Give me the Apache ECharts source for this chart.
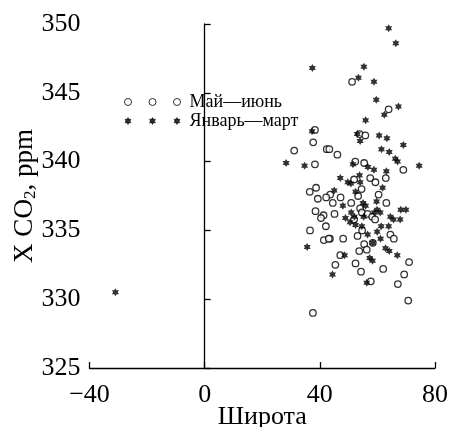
<!DOCTYPE html>
<html>
<head>
<meta charset="utf-8">
<script src="https://cdn.jsdelivr.net/npm/echarts@6/dist/echarts.min.js"></script>
<style>
  html, body { margin: 0; padding: 0; background: #fff; }
  #chart { width: 449px; height: 427px; }
</style>
</head>
<body>
<div id="chart"></div>
<script>
// данные: [широта, XCO2]
const mayJune = [
    [51.2, 345.8], [63.9, 343.8], [38.3, 342.3], [37.7, 341.4], [53.8, 342.0], [55.8, 341.9],
    [42.4, 340.9], [43.3, 340.9], [31.1, 340.8], [46.1, 340.5], [38.3, 339.8], [52.3, 340.0],
    [55.4, 339.9], [69.0, 339.4], [51.9, 338.7], [57.5, 338.8], [59.3, 338.5], [62.9, 338.8],
    [38.7, 338.1], [36.5, 337.8], [43.6, 337.6], [42.2, 337.4], [39.3, 337.3], [47.2, 337.4],
    [54.5, 338.0], [53.3, 337.5], [60.4, 337.6], [63.1, 337.0], [44.5, 337.0], [50.9, 337.0],
    [54.0, 336.6], [38.5, 336.4], [41.3, 336.1], [40.4, 335.9], [45.1, 336.2], [51.9, 335.8],
    [54.6, 336.3], [56.6, 336.2], [58.2, 336.0], [59.2, 335.8], [36.6, 335.0], [42.1, 335.3],
    [41.4, 334.3], [43.5, 334.4], [43.1, 334.4], [48.1, 334.4], [53.1, 334.6], [54.7, 335.0],
    [55.4, 334.0], [56.3, 333.6], [58.4, 334.1], [64.5, 334.7], [65.7, 334.4], [71.0, 332.7],
    [47.1, 333.2], [53.7, 333.5], [45.4, 332.5], [52.4, 332.6], [54.3, 332.0], [62.0, 332.2],
    [69.3, 331.8], [57.7, 331.3], [67.1, 331.1], [70.7, 329.9], [37.6, 329.0]
];
const janMarch = [
    [63.9, 349.7], [66.4, 348.6], [37.4, 346.8], [55.3, 346.9], [53.4, 346.1], [58.8, 345.8],
    [59.6, 344.5], [62.4, 343.4], [67.3, 344.0], [55.9, 343.0], [37.3, 342.2], [53.0, 342.0],
    [54.0, 341.5], [60.6, 341.9], [63.3, 341.7], [69.0, 341.2], [61.4, 340.9], [64.1, 340.7],
    [66.2, 340.2], [67.0, 340.0], [28.3, 339.9], [34.7, 339.7], [51.5, 339.8], [56.7, 339.6],
    [58.8, 339.4], [63.1, 339.3], [74.5, 339.7], [47.1, 338.8], [49.7, 338.5], [50.8, 338.4],
    [53.8, 339.0], [54.0, 338.5], [61.8, 338.1], [45.0, 337.9], [52.4, 337.8], [59.7, 337.1],
    [48.0, 336.8], [55.0, 337.0], [55.9, 336.8], [50.9, 336.3], [52.0, 336.0], [48.9, 335.9],
    [50.5, 335.6], [55.2, 336.0], [58.9, 336.3], [59.9, 336.5], [61.0, 336.3], [64.5, 336.0],
    [65.6, 335.8], [67.9, 335.8], [68.1, 336.5], [69.9, 336.5], [54.6, 335.3], [61.3, 335.3],
    [63.9, 335.3], [35.6, 333.8], [52.4, 335.4], [56.6, 334.7], [58.4, 334.1], [59.9, 334.9],
    [61.1, 334.4], [62.8, 333.7], [64.1, 333.5], [66.9, 333.2], [48.6, 333.2], [57.3, 333.0],
    [58.3, 332.8], [44.4, 331.8], [56.3, 331.2], [-31.0, 330.5]
];
const seriesNames = ['Май—июнь', 'Январь—март'];
const xTicks = [-40, 0, 40, 80];
const yTicks = [325, 330, 335, 340, 345, 350];

const FONT = 'Liberation Serif';

// шестиконечная звезда
const STAR = 'path://M0,-1 L0.866,0.5 L-0.866,0.5 Z M0,1 L-0.866,-0.5 L0.866,-0.5 Z';
// три значка для легенды
const CIRCLES3 = 'path://M0,3.5 a3.5,3.5 0 1,0 7,0 a3.5,3.5 0 1,0 -7,0 Z ' +
    'M24.5,3.5 a3.5,3.5 0 1,0 7,0 a3.5,3.5 0 1,0 -7,0 Z M49,3.5 a3.5,3.5 0 1,0 7,0 a3.5,3.5 0 1,0 -7,0 Z';
const STARS3 = 'path://M3.5,0 L6.53,5.25 L0.47,5.25 Z M3.5,7 L0.47,1.75 L6.53,1.75 Z ' +
    'M28,0 L31.03,5.25 L24.97,5.25 Z M28,7 L24.97,1.75 L31.03,1.75 Z ' +
    'M52.5,0 L55.53,5.25 L49.47,5.25 Z M52.5,7 L49.47,1.75 L55.53,1.75 Z';

const chart = echarts.init(document.getElementById('chart'));

const axisCommon = {
    nameMoveOverlap: false,
    axisLine: { show: true, lineStyle: { color: '#000', width: 1.3 } },
    axisTick: { show: true, inside: true, length: 6, lineStyle: { color: '#000', width: 1.3 } },
    splitLine: { show: false },
    axisLabel: { color: '#000', fontFamily: FONT, fontSize: 26 },
    nameTextStyle: { color: '#000', fontFamily: FONT, fontSize: 26 }
};

chart.setOption({
    animation: false,
    backgroundColor: '#fff',
    grid: { left: 89.5, right: 14, top: 24, bottom: 59, outerBoundsMode: 'none', containLabel: false },
    legend: {
        orient: 'vertical',
        left: 119,
        top: 88,
        itemGap: 1,
        itemWidth: 56,
        itemHeight: 7,
        textStyle: { color: '#000', fontFamily: FONT, fontSize: 18, padding: [0, 0, 0, 4] },
        data: [
            { name: seriesNames[0], icon: CIRCLES3,
              itemStyle: { color: '#fff', borderColor: '#000', borderWidth: 1 } },
            { name: seriesNames[1], icon: STARS3,
              itemStyle: { color: '#000', borderColor: '#000', borderWidth: 0.6 } }
        ]
    },
    xAxis: Object.assign({}, axisCommon, {
        type: 'value',
        min: xTicks[0],
        max: xTicks[xTicks.length - 1],
        interval: 40,
        name: 'Широта',
        nameLocation: 'middle',
        nameGap: 36,
        axisLabel: Object.assign({}, axisCommon.axisLabel, {
            margin: 14,
            formatter: v => String(v).replace('-', '−')
        })
    }),
    yAxis: Object.assign({}, axisCommon, {
        type: 'value',
        min: yTicks[0],
        max: yTicks[yTicks.length - 1],
        interval: 5,
        name: '{a|X CO}{s|2}{a|, ppm}',
        nameLocation: 'middle',
        nameGap: 50,
        nameTextStyle: {
            color: '#000',
            rich: {
                a: { fontFamily: FONT, fontSize: 27, color: '#000' },
                s: { fontFamily: FONT, fontSize: 17, color: '#000', verticalAlign: 'bottom', padding: [13, 0, 0, 0] }
            }
        },
        axisLabel: Object.assign({}, axisCommon.axisLabel, { margin: 9 })
    }),
    series: [
        {
            name: seriesNames[0],
            type: 'scatter',
            data: mayJune,
            symbol: 'circle',
            symbolSize: 6.5,
            itemStyle: { color: '#fff', borderColor: '#000', borderWidth: 1.3 }
        },
        {
            name: seriesNames[1],
            type: 'scatter',
            data: janMarch,
            symbol: STAR,
            symbolSize: [7, 8],
            itemStyle: { color: '#000' }
        }
    ]
});
</script>
</body>
</html>
